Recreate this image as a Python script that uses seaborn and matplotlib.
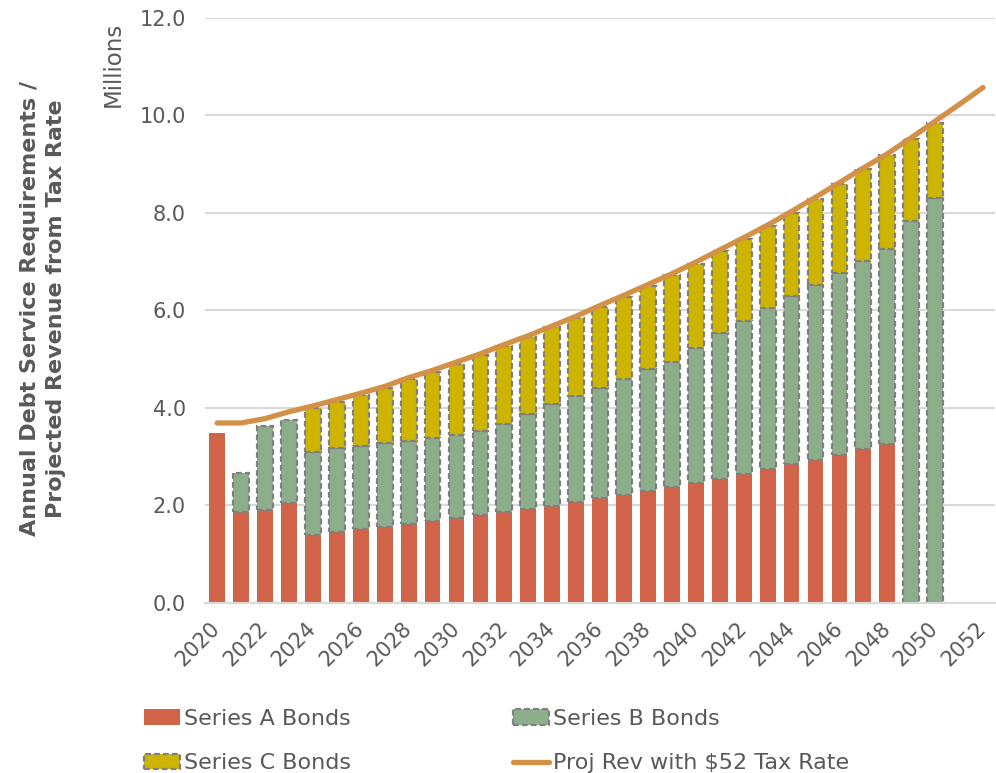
import numpy as np
import pandas as pd
import matplotlib
matplotlib.use("Agg")
import matplotlib.pyplot as plt
from matplotlib.patches import Patch
from matplotlib.lines import Line2D
import seaborn as sns

# ---------------- data (millions) ----------------
years = list(range(2020, 2051))
series_a = [3.49, 1.86, 1.91, 2.05, 1.40, 1.45, 1.51, 1.56, 1.61, 1.68,
            1.74, 1.81, 1.87, 1.93, 1.99, 2.07, 2.15, 2.22, 2.30, 2.37,
            2.46, 2.55, 2.64, 2.74, 2.84, 2.94, 3.03, 3.15, 3.25, 0.00,
            0.00]
series_b = [0.00, 0.81, 1.72, 1.70, 1.69, 1.72, 1.71, 1.72, 1.72, 1.71,
            1.71, 1.71, 1.80, 1.95, 2.09, 2.17, 2.25, 2.38, 2.49, 2.57,
            2.77, 2.98, 3.14, 3.30, 3.45, 3.59, 3.73, 3.86, 4.00, 7.83,
            8.31]
series_c = [0.00, 0.00, 0.00, 0.00, 0.90, 0.95, 1.04, 1.12, 1.26, 1.35,
            1.46, 1.56, 1.60, 1.57, 1.57, 1.61, 1.67, 1.68, 1.71, 1.78,
            1.73, 1.68, 1.68, 1.68, 1.71, 1.76, 1.83, 1.88, 1.93, 1.68,
            1.54]
rev_years = list(range(2020, 2053))
proj_rev = [3.69, 3.69, 3.78, 3.92, 4.04, 4.17, 4.30, 4.44, 4.62, 4.77,
            4.94, 5.11, 5.30, 5.48, 5.68, 5.88, 6.10, 6.31, 6.53, 6.75,
            6.99, 7.24, 7.49, 7.75, 8.03, 8.32, 8.62, 8.92, 9.21, 9.54,
            9.88, 10.22, 10.57]
x_ticks = list(range(2020, 2053, 2))
y_ticks = [0, 2, 4, 6, 8, 10, 12]

labels = ["Series A Bonds", "Series B Bonds", "Series C Bonds",
          "Proj Rev with $52 Tax Rate"]

# ---------------- style ----------------
sns.set_theme(style="white")
plt.rcParams['font.family'] = ['DejaVu Sans']
TXT = "#595959"
C_A = "#D16349"
C_B = "#8CAE8B"
C_C = "#CCB400"
C_L = "#D29146"
EDGE = "#808080"

df = pd.DataFrame({"year": years, "A": series_a, "B": series_b, "C": series_c})
df["bot_c"] = df["A"] + df["B"]
rev = pd.DataFrame({"year": rev_years, "rev": proj_rev})

fig = plt.figure(figsize=(9.96, 7.73), dpi=100)
ax = fig.add_axes([0.206, 0.22, 0.793, 0.757])

w = 0.66
dash = (0, (2.6, 1.4))
da = df[df["A"] > 0]
ax.bar(da["year"], da["A"], width=w, color=C_A, linewidth=0, zorder=2)
dbb = df[df["B"] > 0]
ax.bar(dbb["year"], dbb["B"], bottom=dbb["A"], width=w, color=C_B,
       edgecolor=EDGE, linewidth=1.6, linestyle=dash, zorder=2)
dc = df[df["C"] > 0]
ax.bar(dc["year"], dc["C"], bottom=dc["bot_c"], width=w, color=C_C,
       edgecolor=EDGE, linewidth=1.6, linestyle=dash, zorder=2)

sns.lineplot(data=rev, x="year", y="rev", ax=ax, color=C_L, linewidth=3.8,
             zorder=3, legend=False)
ax.lines[-1].set_solid_capstyle("round")

ax.set_xlim(2019.5, 2052.5)
ax.set_ylim(0, 12)
ax.set_yticks(y_ticks)
ax.set_yticklabels([f"{v:.1f}" for v in y_ticks])
ax.set_xticks(x_ticks)
ax.set_xticklabels([str(v) for v in x_ticks], rotation=45, ha="right",
                   va="center", rotation_mode="anchor")
ax.tick_params(axis="y", length=0, pad=14, labelsize=15, labelcolor=TXT)
ax.tick_params(axis="x", length=0, pad=16, labelsize=15, labelcolor=TXT)
ax.grid(axis="y", color="#D9D9D9", linewidth=1.5, zorder=0)
ax.set_axisbelow(True)
for s in ["left", "right", "top"]:
    ax.spines[s].set_visible(False)
ax.spines["bottom"].set_color("#D9D9D9")
ax.spines["bottom"].set_linewidth(1.5)
ax.set_xlabel("")
ax.set_ylabel("")

fig.text(0.043, 0.601, "Annual Debt Service Requirements /\nProjected Revenue from Tax Rate",
         rotation=90, ha="center", va="center", fontsize=16, fontweight="bold",
         color=TXT, linespacing=1.35)
fig.text(0.114, 0.972, "Millions", rotation=90, ha="center", va="top",
         fontsize=16.5, color=TXT)

h_a = Patch(facecolor=C_A, edgecolor="none")
h_b = Patch(facecolor=C_B, edgecolor=EDGE, linewidth=1.6, linestyle=dash)
h_c = Patch(facecolor=C_C, edgecolor=EDGE, linewidth=1.6, linestyle=dash)
h_l = Line2D([0], [0], color=C_L, linewidth=3.8, solid_capstyle="round")
leg = fig.legend([h_a, h_c, h_b, h_l], [labels[0], labels[2], labels[1], labels[3]],
                 ncol=2, loc="upper left", bbox_to_anchor=(0.145, 0.083),
                 bbox_transform=fig.transFigure, frameon=False, fontsize=16,
                 handlelength=1.62, handleheight=0.68, handletextpad=0.18,
                 columnspacing=7.25, labelspacing=1.1, borderaxespad=0,
                 borderpad=0)
for t in leg.get_texts():
    t.set_color(TXT)

fig.savefig("out.png", dpi=100)
